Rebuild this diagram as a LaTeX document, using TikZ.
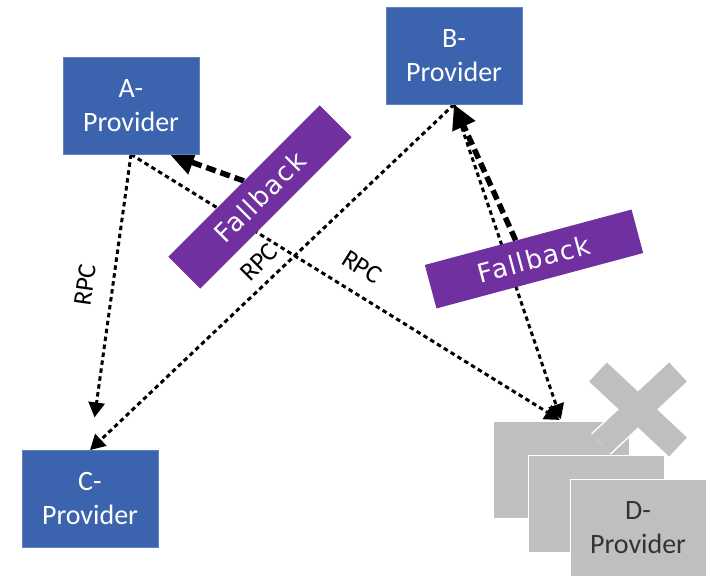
\documentclass[tikz,border=0pt]{standalone}
\usepackage{fontspec}
\setmainfont{Carlito}
\newfontfamily\fbfont[LetterSpace=6]{DejaVu Sans}
\usetikzlibrary{arrows.meta,calc}
\definecolor{pblue}{RGB}{59,99,174}
\definecolor{ppurple}{RGB}{112,48,160}
\definecolor{pgray}{RGB}{191,191,191}
\pgfdeclarelayer{bg}
\pgfsetlayers{bg,main}
\begin{document}
\begin{tikzpicture}[x=1pt,y=-1pt,
  prov/.style={fill=pblue, draw=pblue!80!white, line width=0.8pt, text=white, minimum width=136pt, minimum height=97pt, align=center, font=\fontsize{28}{34}\selectfont, inner sep=0pt},
  dprov/.style={fill=pgray, draw=white, line width=1pt, minimum width=136pt, minimum height=97pt, align=center, font=\fontsize{28}{34}\selectfont, text=black!80, inner sep=0pt},
  fb/.style={fill=ppurple, text=white, minimum width=214pt, minimum height=45pt, inner sep=0pt, font=\fbfont\fontsize{26}{26}\selectfont},
  rpc/.style={font=\fontsize{26}{26}\selectfont, inner sep=0pt},
  call/.style={line width=3pt, dash pattern=on 4.5pt off 3.5pt, -{Triangle[length=15pt,width=16pt]}},
  fall/.style={line width=5.5pt, dash pattern=on 10pt off 5pt, -{Triangle[length=24pt,width=24pt]}},
  ]
\useasboundingbox (0,0) rectangle (716,584);

\node[prov] (A) at (131,105.5) {A-\\Provider};
\node[prov] (B) at (454,55.5) {B-\\Provider};
\node[prov] (C) at (90,499) {C-\\Provider};

\node[dprov] (Dback) at (561.5,470) {};
\draw[white, line width=29pt] (598,372) -- (678,447) (678,372) -- (601,444);
\draw[pgray, line width=26pt] (598,372) -- (678,447) (678,372) -- (601,444);
\node[dprov] (Dmid) at (596,503.5) {};
\node[dprov] (D) at (638,527.5) {D-\\Provider};

\node[fb, rotate=45] (fb1) at (260,197) {Fallback};
\node[fb, rotate=15] (fb2) at (534,259) {Fallback};

\node[rpc, rotate=82] (rpc1) at (85,285) {RPC};
\node[rpc, rotate=45] (rpc2) at (259,262) {RPC};
\node[rpc, rotate=-32] (rpc3) at (362,267) {RPC};

\begin{pgfonlayer}{bg}
\draw[call, shorten >=33pt] (A.south) -- (C.north);
\draw[call] (B.south) -- (C.north);
\draw[call, shorten >=2pt] (A.south) -- (Dback.north);
\draw[call, shorten >=2pt] (B.south) -- (Dback.north);
\draw[fall] (fb1.north) -- ($(A.south)!0.57!(A.south east)$);
\draw[fall] ($(fb2.north)!0.12!(fb2.north west)$) -- (B.south);
\end{pgfonlayer}
\end{tikzpicture}
\end{document}
